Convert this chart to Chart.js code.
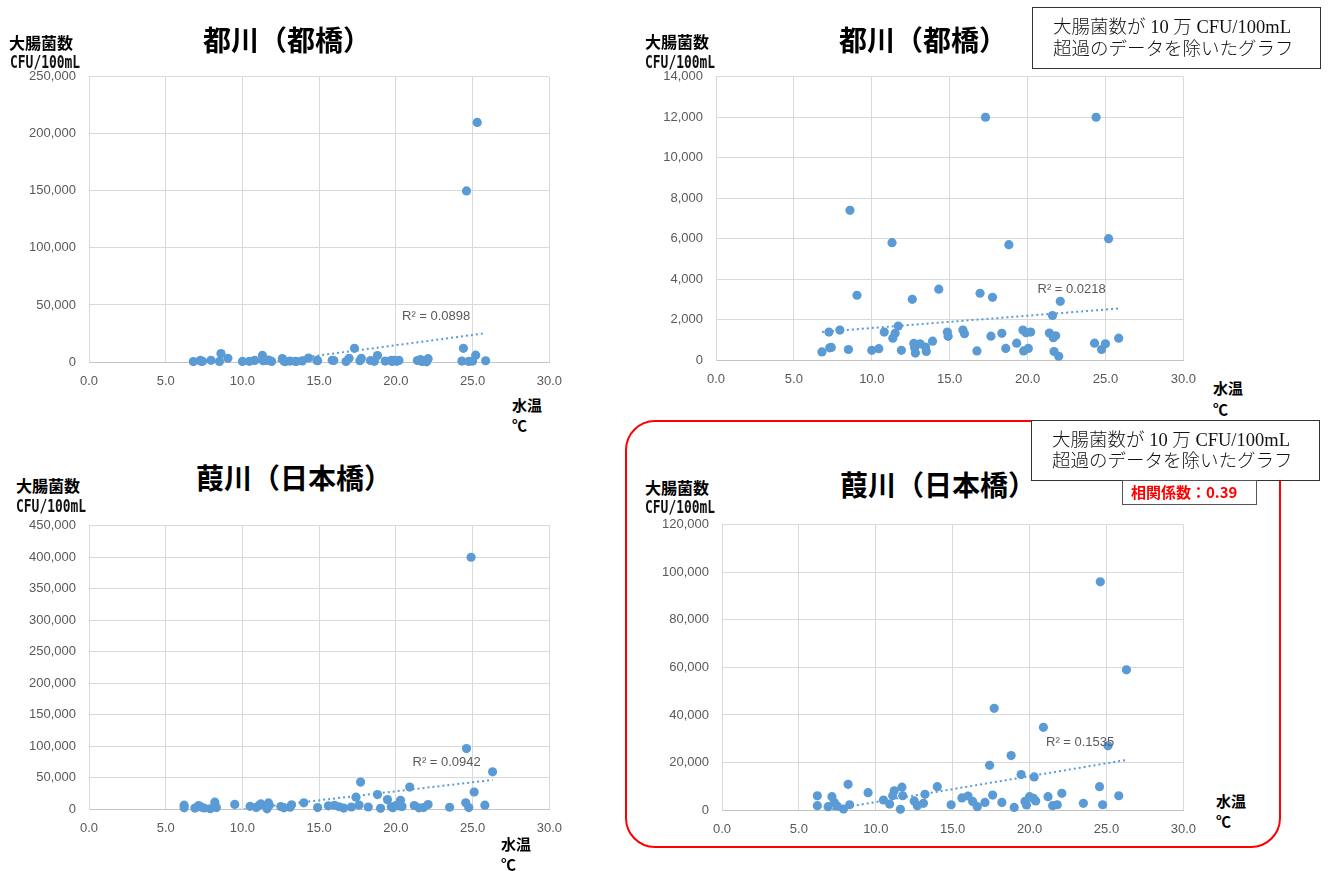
<!DOCTYPE html>
<html lang="ja">
<head>
<meta charset="utf-8">
<script src="https://cdn.jsdelivr.net/npm/chart.js@4.4.1/dist/chart.umd.min.js"></script>
<style>
  html, body { margin: 0; padding: 0; background: #fff; }
  #page { position: relative; width: 1331px; height: 871px; overflow: hidden; background: #fff; }
  canvas { position: absolute; }
  .t { position: absolute; white-space: nowrap; }
  .title { font: 700 28px "Noto Sans CJK JP"; line-height: 28px; color: #000; }
  .ylab { font: 700 16px "Noto Sans CJK JP"; line-height: 16px; color: #000; }
  .unit { font: 700 17.5px "DejaVu Sans Mono"; line-height: 17.5px; color: #111; transform: scaleX(0.74); transform-origin: 0 50%; }
  .xlab { font: 700 15px "Noto Sans CJK JP"; line-height: 15px; color: #000; }
  .r2 { font: 400 13px "Liberation Sans"; line-height: 13px; color: #595959; }
  .note { font: 300 18.5px "Liberation Serif", "Noto Sans CJK JP"; line-height: 18.5px; color: #111; }
  .corrtxt { font: 700 15px "Noto Sans CJK JP"; line-height: 15px; color: #f00; }
  .frame { position: absolute; box-sizing: border-box; border: 2.5px solid #f00; border-radius: 30px; }
  .box { position: absolute; box-sizing: border-box; border: 1.5px solid #333; background: #fff; }
</style>
</head>
<body>
<div id="page"></div>
<script>
// 都川（都橋）: water temperature (°C) and E. coli count (CFU/100mL), samples up to 100,000
const miyakoTemp = [6.8, 7.25, 7.3, 7.4, 7.95, 8.5, 8.6, 9.05, 10.0, 10.45, 10.8, 11.3, 11.35, 11.5, 11.7, 11.9,
  12.6, 12.7, 12.75, 12.8, 13.1, 13.45, 13.5, 13.9, 14.3, 14.85, 14.9, 15.85, 15.95, 16.75, 16.95, 17.3,
  17.65, 17.75, 18.35, 18.6, 18.8, 19.3, 19.7, 19.75, 19.9, 20.05, 20.2, 21.4, 21.6, 21.65, 21.7, 21.8,
  22.0, 22.1, 24.3, 24.4, 24.75, 25.0, 25.2, 25.85];
const miyakoCount = [400, 1380, 600, 620, 1480, 520, 7400, 3200, 480, 560, 1380, 5800, 1080, 1320, 1680, 480,
  3000, 820, 600, 340, 800, 640, 420, 930, 3500, 1380, 1170, 1480, 1300, 450, 3300, 12000,
  1180, 3100, 1320, 570, 5700, 830, 1480, 450, 1350, 570, 1380, 1330, 2200, 1100, 420, 1200,
  180, 2900, 830, 12000, 520, 800, 6000, 1080];
// 都川（都橋）: samples above 100,000
const miyakoHighTemp = [24.6, 25.3];
const miyakoHighCount = [150000, 210000];

// 葭川（日本橋）: samples up to 100,000
const yoshiTemp = [6.2, 6.2, 6.9, 7.15, 7.3, 7.5, 7.9, 8.2, 8.3, 9.5, 10.5, 10.9, 11.1, 11.2, 11.6, 11.7,
  11.75, 12.5, 12.7, 13.1, 13.2, 14.0, 14.9, 15.6, 16.0, 16.3, 16.6, 17.1, 17.4, 17.6, 17.7, 18.2,
  18.8, 19.0, 19.45, 19.7, 19.8, 20.0, 20.25, 20.3, 20.4, 20.9, 21.2, 21.5, 21.8, 22.1, 23.5, 24.55,
  24.6, 24.75, 25.1, 25.8, 26.3];
const yoshiCount = [6000, 1800, 1400, 5600, 3200, 1600, 400, 10800, 2200, 7300, 4200, 2500, 6000, 8100, 300, 9600,
  6000, 3800, 1800, 2800, 6600, 9800, 2200, 5100, 5900, 3600, 1400, 3200, 18800, 6300, 42800, 3200,
  22900, 1100, 14900, 3600, 2100, 5600, 4900, 13900, 3800, 34800, 5600, 1800, 2200, 7000, 2800, 9800,
  96000, 2200, 27000, 6000, 59000];
// 葭川（日本橋）: samples above 100,000
const yoshiHighTemp = [24.9];
const yoshiHighCount = [400000];

// axis ranges and labels
const tempTicks = [0, 5, 10, 15, 20, 25, 30];
const yMaxAll = [250000, 14000, 450000, 120000];
const yStepAll = [50000, 2000, 50000, 20000];
const r2Labels = ['R² = 0.0898', 'R² = 0.0218', 'R² = 0.0942', 'R² = 0.1535'];
const riverTitles = ['都川（都橋）', '都川（都橋）', '葭川（日本橋）', '葭川（日本橋）'];
const noteLines = ['大腸菌数が 10 万 CFU/100mL', '超過のデータを除いたグラフ'];
const corrLabel = '相関係数：0.39';

const page = document.getElementById('page');
const BLUE = '#5b9bd5';

function text(str, cls, left, cy, size) {
  const d = document.createElement('div');
  d.className = 't ' + cls;
  d.textContent = str;
  d.style.left = left + 'px';
  d.style.top = (cy - size * 0.55) + 'px';
  page.appendChild(d);
  return d;
}

// least-squares line over the plotted samples
function linearFit(pts) {
  const n = pts.length;
  let sx = 0, sy = 0, sxx = 0, sxy = 0;
  pts.forEach(p => { sx += p.x; sy += p.y; sxx += p.x * p.x; sxy += p.x * p.y; });
  const b = (n * sxy - sx * sy) / (n * sxx - sx * sx);
  const a = (sy - b * sx) / n;
  return { a, b };
}

function chartConfig(pts, trend, yMax, yStep) {
  const tickFont = { family: 'Liberation Sans', size: 13 };
  return {
    type: 'scatter',
    data: {
      datasets: [
        { data: trend, showLine: true, borderColor: BLUE, borderWidth: 2, borderDash: [2, 3],
          pointRadius: 0, fill: false, order: 0 },
        { data: pts, backgroundColor: BLUE, borderWidth: 0, pointRadius: 4.6, clip: false, order: 1 }
      ]
    },
    options: {
      responsive: false, maintainAspectRatio: false, animation: false, events: [],
      layout: { padding: { left: 0, right: 20, top: 10, bottom: 0 } },
      plugins: { legend: { display: false }, tooltip: { enabled: false } },
      scales: {
        x: {
          type: 'linear', min: tempTicks[0], max: tempTicks[tempTicks.length - 1],
          afterBuildTicks: s => { s.ticks = tempTicks.map(v => ({ value: v })); },
          ticks: { callback: v => Number(v).toFixed(1), color: '#595959', font: tickFont,
                   padding: 12, maxRotation: 0, autoSkip: false },
          grid: { color: '#d9d9d9', drawTicks: false },
          border: { color: '#c4c4c4' },
          afterFit: s => { s.height = 30; }
        },
        y: {
          type: 'linear', min: 0, max: yMax,
          ticks: { stepSize: yStep, callback: v => Number(v).toLocaleString('en-US'), color: '#595959',
                   font: tickFont, padding: 13 },
          grid: { color: '#d9d9d9', drawTicks: false },
          border: { color: '#d9d9d9' },
          afterFit: s => { s.width = 60; }
        }
      }
    }
  };
}

function makeCanvas(L, T, W, H) {
  const cv = document.createElement('canvas');
  cv.width = W; cv.height = H;
  cv.style.left = L + 'px'; cv.style.top = T + 'px';
  cv.style.width = W + 'px'; cv.style.height = H + 'px';
  page.appendChild(cv);
  return cv;
}

// draws one panel so that its plot area spans [x0,x1] x [y0,y1] on the page
function scatter(area, temps, counts, hiTemps, hiCounts, yMax, yStep) {
  const pts = temps.map((t, i) => ({ x: t, y: counts[i] }));
  hiTemps.forEach((t, i) => pts.push({ x: t, y: hiCounts[i] }));
  const fit = linearFit(pts);
  const xs = pts.map(p => p.x);
  const xa = Math.min(...xs), xb = Math.max(...xs);
  const trend = [{ x: xa, y: fit.a + fit.b * xa }, { x: xb, y: fit.a + fit.b * xb }];

  // first pass: find the margins the layout leaves round the plot area
  let W = area.x1 - area.x0 + 80, H = area.y1 - area.y0 + 40;
  let cv = makeCanvas(area.x0 - 60, area.y0 - 10, W, H);
  let ch = new Chart(cv, chartConfig(pts, trend, yMax, yStep));
  const ca = ch.chartArea;
  const dl = ca.left, dt = ca.top, dr = W - ca.right, db = H - ca.bottom;
  ch.destroy();
  cv.remove();

  // second pass: canvas sized so the plot area lands where wanted
  W = Math.round(area.x1 - area.x0 + dl + dr);
  H = Math.round(area.y1 - area.y0 + dt + db);
  cv = makeCanvas(Math.round(area.x0 - dl), Math.round(area.y0 - dt), W, H);
  return new Chart(cv, chartConfig(pts, trend, yMax, yStep));
}

// four panels
scatter({ x0: 89, y0: 77, x1: 549, y1: 362 }, miyakoTemp, miyakoCount, miyakoHighTemp, miyakoHighCount, yMaxAll[0], yStepAll[0]);
scatter({ x0: 716, y0: 77, x1: 1183, y1: 360 }, miyakoTemp, miyakoCount, [], [], yMaxAll[1], yStepAll[1]);
scatter({ x0: 89, y0: 526, x1: 549, y1: 809 }, yoshiTemp, yoshiCount, yoshiHighTemp, yoshiHighCount, yMaxAll[2], yStepAll[2]);

// red frame round the last panel
const frame = document.createElement('div');
frame.className = 'frame';
Object.assign(frame.style, { left: '625px', top: '420px', width: '656px', height: '428px' });
page.appendChild(frame);

scatter({ x0: 722, y0: 525, x1: 1183, y1: 810 }, yoshiTemp, yoshiCount, [], [], yMaxAll[3], yStepAll[3]);

// titles and axis captions
const panelText = [
  { title: [203, 40], ylab: [9, 43], unit: [10, 63.5], xlab: [512, 405], deg: [512, 425.5], r2: [402, 316] },
  { title: [839, 40], ylab: [645, 42], unit: [645, 64], xlab: [1213, 388.5], deg: [1213, 409], r2: [1037.5, 289] },
  { title: [196, 478], ylab: [16, 486], unit: [16, 508], xlab: [501, 844], deg: [501, 864], r2: [412.5, 762.5] },
  { title: [840, 485], ylab: [645, 488], unit: [645, 508.5], xlab: [1216, 801.5], deg: [1216, 821.5], r2: [1046, 742.5] }
];
panelText.forEach((p, i) => {
  text(riverTitles[i], 'title', p.title[0], p.title[1], 28);
  text('大腸菌数', 'ylab', p.ylab[0], p.ylab[1], 16);
  text('CFU/100mL', 'unit', p.unit[0], p.unit[1], 17.5);
  text('水温', 'xlab', p.xlab[0], p.xlab[1], 15);
  text('℃', 'xlab', p.deg[0], p.deg[1], 15);
  text(r2Labels[i], 'r2', p.r2[0], p.r2[1], 13);
});

// note boxes
function noteBox(left, top, w, h, textLeft, cy1, cy2) {
  const b = document.createElement('div');
  b.className = 'box';
  Object.assign(b.style, { left: left + 'px', top: top + 'px', width: w + 'px', height: h + 'px' });
  page.appendChild(b);
  text(noteLines[0], 'note', textLeft, cy1, 18.5);
  text(noteLines[1], 'note', textLeft, cy2, 18.5);
}
noteBox(1032, 7, 289, 62, 1053, 28, 50);
noteBox(1031, 420, 289, 61, 1052, 441, 462);

// correlation label
const cb = document.createElement('div');
cb.className = 'box';
Object.assign(cb.style, { left: '1122px', top: '480px', width: '135px', height: '25px', borderColor: '#555' });
page.appendChild(cb);
text(corrLabel, 'corrtxt', 1131, 492, 15);
</script>
</body>
</html>
